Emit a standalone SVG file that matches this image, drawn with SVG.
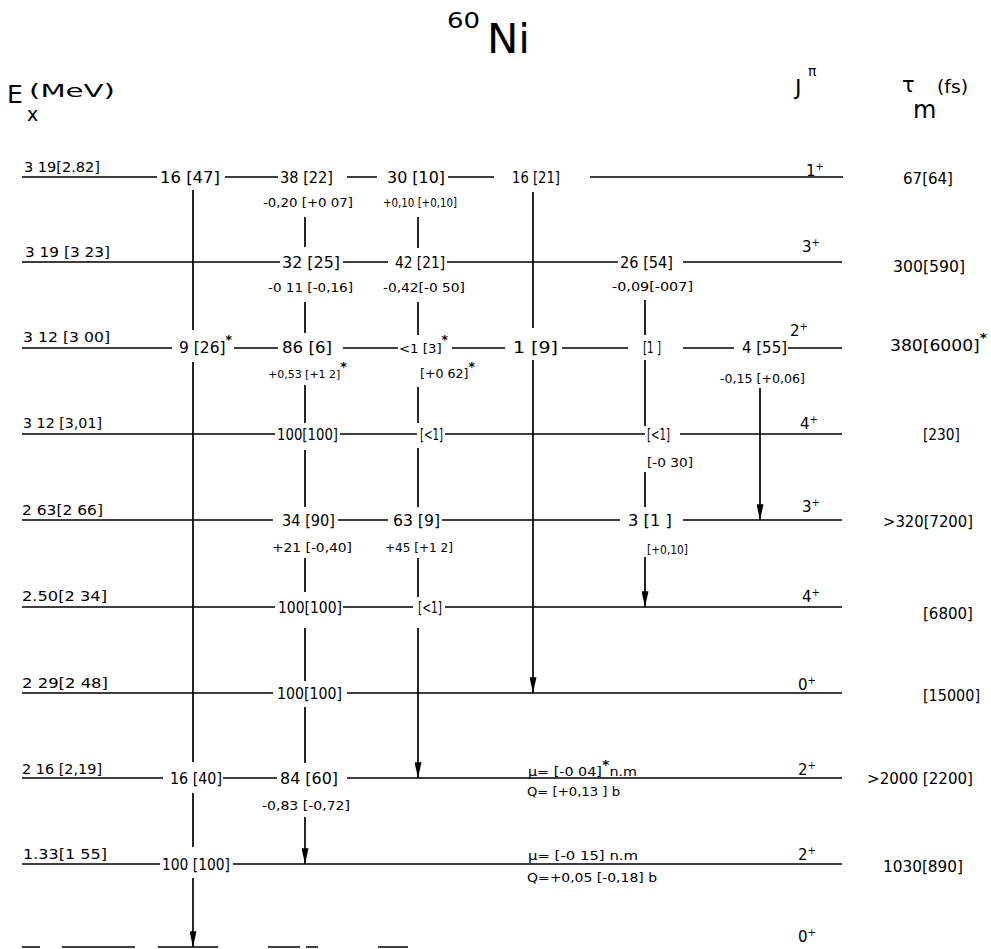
<svg xmlns="http://www.w3.org/2000/svg" width="991" height="949" viewBox="0 0 991 949">
<defs>
<style>
text{font-family:"DejaVu Sans","Liberation Sans",sans-serif;fill:#000}
.lv{stroke:#000;stroke-width:1.6;fill:none}
.tr{stroke:#000;stroke-width:1.7;fill:none}
.m{font-size:15px}
.s{font-size:12px}
.e{font-size:14px}
.j{font-size:15px}
.sup{font-size:10px}
.t{font-size:15px}
.ast{font-size:12px;font-weight:bold}
</style>
<marker id="ah" viewBox="0 0 18 8" refX="18" refY="4" markerWidth="18" markerHeight="7" markerUnits="userSpaceOnUse" orient="auto">
<path d="M0,0 L18,4 L0,8 z" fill="#000"/>
</marker>
</defs>
<rect width="991" height="949" fill="#fff"/>

<g id="title">
<text x="447" y="28" font-size="22" textLength="33" lengthAdjust="spacingAndGlyphs">60</text>
<text x="487" y="53" font-size="40" textLength="43" lengthAdjust="spacingAndGlyphs">Ni</text>
</g>
<g id="headers">
<text x="7" y="103" font-size="25">E</text>
<text x="27" y="121" font-size="19">x</text>
<text x="29" y="97" font-size="18" textLength="86" lengthAdjust="spacingAndGlyphs">(MeV)</text>
<text x="795" y="95" font-size="22">J</text>
<text x="808" y="76" font-size="14">π</text>
<text x="902" y="92" font-size="21">τ</text>
<text x="913" y="118" font-size="24">m</text>
<text x="937" y="93" font-size="17" textLength="31" lengthAdjust="spacingAndGlyphs">(fs)</text>
</g>

<g id="level-319a">
<path class="lv" d="M22 177H157M225 177H278M347 177H377M448 177H494M590 177H843"/>
<text class="e" x="24" y="172" textLength="76" lengthAdjust="spacingAndGlyphs">3 19[2.82]</text>
<text class="m" x="160" y="183" textLength="60" lengthAdjust="spacingAndGlyphs">16 [47]</text>
<text class="m" x="280" y="183" textLength="53" lengthAdjust="spacingAndGlyphs">38 [22]</text>
<text class="m" x="387" y="183" textLength="58" lengthAdjust="spacingAndGlyphs">30 [10]</text>
<text class="m" x="512" y="183" textLength="48" lengthAdjust="spacingAndGlyphs">16 [21]</text>
<text class="s" x="263" y="207" textLength="90" lengthAdjust="spacingAndGlyphs">-0,20 [+0 07]</text>
<text class="s" x="383" y="207" textLength="74" lengthAdjust="spacingAndGlyphs">+0,10 [+0,10]</text>
<text class="j" x="806" y="176" font-size="13">1<tspan class="sup" dy="-6">+</tspan></text>
<text class="t" x="903" y="184" textLength="50" lengthAdjust="spacingAndGlyphs">67[64]</text>
</g>

<g id="level-319b">
<path class="lv" d="M22 262H280M343 262H388M447 262H618M683 262H842"/>
<text class="e" x="25" y="257" textLength="85" lengthAdjust="spacingAndGlyphs">3 19 [3 23]</text>
<text class="m" x="282" y="268" textLength="58" lengthAdjust="spacingAndGlyphs">32 [25]</text>
<text class="m" x="395" y="268" textLength="50" lengthAdjust="spacingAndGlyphs">42 [21]</text>
<text class="m" x="620" y="268" textLength="53" lengthAdjust="spacingAndGlyphs">26 [54]</text>
<text class="s" x="268" y="292" textLength="85" lengthAdjust="spacingAndGlyphs">-0 11 [-0,16]</text>
<text class="s" x="383" y="292" textLength="82" lengthAdjust="spacingAndGlyphs">-0,42[-0 50]</text>
<text class="s" x="612" y="291" textLength="81" lengthAdjust="spacingAndGlyphs">-0,09[-007]</text>
<text class="j" x="802" y="252">3<tspan class="sup" dy="-6">+</tspan></text>
<text class="t" x="893" y="272" textLength="72" lengthAdjust="spacingAndGlyphs">300[590]</text>
</g>

<g id="level-312a">
<path class="lv" d="M22 348H172M234 348H278M343 348H398M452 348H505M562 348H628M683 348H734M788 348H842"/>
<text class="e" x="23" y="342" textLength="87" lengthAdjust="spacingAndGlyphs">3 12 [3 00]</text>
<text class="m" x="179" y="353" textLength="53" lengthAdjust="spacingAndGlyphs">9 [26]<tspan class="ast" dy="-9">*</tspan></text>
<text class="m" x="282" y="353" textLength="50" lengthAdjust="spacingAndGlyphs">86 [6]</text>
<text x="399" y="353" font-size="13" textLength="49" lengthAdjust="spacingAndGlyphs">&lt;1 [3]<tspan class="ast" dy="-9">*</tspan></text>
<text class="m" x="513" y="353" textLength="45" lengthAdjust="spacingAndGlyphs">1 [9]</text>
<text class="m" x="643" y="353" textLength="18" lengthAdjust="spacingAndGlyphs">[1 ]</text>
<text class="m" x="742" y="353" textLength="45" lengthAdjust="spacingAndGlyphs">4 [55]</text>
<text x="268" y="378" font-size="10.3" textLength="79" lengthAdjust="spacingAndGlyphs">+0,53 [+1 2]<tspan class="ast" dy="-7">*</tspan></text>
<text class="s" x="420" y="378" textLength="55" lengthAdjust="spacingAndGlyphs">[+0 62]<tspan class="ast" dy="-7">*</tspan></text>
<text class="s" x="720" y="383" textLength="85" lengthAdjust="spacingAndGlyphs">-0,15 [+0,06]</text>
<text class="j" x="790" y="336">2<tspan class="sup" dy="-6">+</tspan></text>
<text class="t" x="890" y="351" textLength="97" lengthAdjust="spacingAndGlyphs">380[6000]<tspan class="ast" dy="-9">*</tspan></text>
</g>

<g id="level-312b">
<path class="lv" d="M22 434H275M340 434H417M445 434H645M680 434H842"/>
<text class="e" x="23" y="428" textLength="79" lengthAdjust="spacingAndGlyphs">3 12 [3,01]</text>
<text class="m" x="277" y="440" textLength="61" lengthAdjust="spacingAndGlyphs">100[100]</text>
<text class="m" x="420" y="440" textLength="23" lengthAdjust="spacingAndGlyphs">[&lt;1]</text>
<text class="m" x="647" y="440" textLength="23" lengthAdjust="spacingAndGlyphs">[&lt;1]</text>
<text class="s" x="647" y="467" textLength="46" lengthAdjust="spacingAndGlyphs">[-0 30]</text>
<text class="j" x="800" y="429">4<tspan class="sup" dy="-6">+</tspan></text>
<text class="t" x="923" y="440" textLength="37" lengthAdjust="spacingAndGlyphs">[230]</text>
</g>

<g id="level-263">
<path class="lv" d="M22 520H273M338 520H388M442 520H620M683 520H842"/>
<text class="e" x="22" y="515" textLength="81" lengthAdjust="spacingAndGlyphs">2 63[2 66]</text>
<text class="m" x="282" y="526" textLength="53" lengthAdjust="spacingAndGlyphs">34 [90]</text>
<text class="m" x="393" y="526" textLength="47" lengthAdjust="spacingAndGlyphs">63 [9]</text>
<text class="m" x="628" y="526" textLength="44" lengthAdjust="spacingAndGlyphs">3 [1 ]</text>
<text class="s" x="272" y="552" textLength="80" lengthAdjust="spacingAndGlyphs">+21 [-0,40]</text>
<text class="s" x="385" y="552" textLength="68" lengthAdjust="spacingAndGlyphs">+45 [+1 2]</text>
<text class="s" x="647" y="554" textLength="41" lengthAdjust="spacingAndGlyphs">[+0,10]</text>
<text class="j" x="802" y="512">3<tspan class="sup" dy="-6">+</tspan></text>
<text class="t" x="883" y="527" textLength="90" lengthAdjust="spacingAndGlyphs">&gt;320[7200]</text>
</g>

<g id="level-250">
<path class="lv" d="M22 607H275M343 607H413M445 607H842"/>
<text class="e" x="22" y="601" textLength="85" lengthAdjust="spacingAndGlyphs">2.50[2 34]</text>
<text class="m" x="278" y="613" textLength="64" lengthAdjust="spacingAndGlyphs">100[100]</text>
<text class="m" x="418" y="613" textLength="24" lengthAdjust="spacingAndGlyphs">[&lt;1]</text>
<text class="j" x="802" y="602">4<tspan class="sup" dy="-6">+</tspan></text>
<text class="t" x="923" y="619" textLength="50" lengthAdjust="spacingAndGlyphs">[6800]</text>
</g>

<g id="level-229">
<path class="lv" d="M22 693H273M347 693H842"/>
<text class="e" x="22" y="688" textLength="86" lengthAdjust="spacingAndGlyphs">2 29[2 48]</text>
<text class="m" x="277" y="699" textLength="65" lengthAdjust="spacingAndGlyphs">100[100]</text>
<text class="j" x="798" y="690">0<tspan class="sup" dy="-6">+</tspan></text>
<text class="t" x="923" y="701" textLength="57" lengthAdjust="spacingAndGlyphs">[15000]</text>
</g>

<g id="level-216">
<path class="lv" d="M22 778H163M223 778H277M347 778H842"/>
<text class="e" x="22" y="774" textLength="80" lengthAdjust="spacingAndGlyphs">2 16 [2,19]</text>
<text class="m" x="170" y="784" textLength="52" lengthAdjust="spacingAndGlyphs">16 [40]</text>
<text class="m" x="280" y="784" textLength="58" lengthAdjust="spacingAndGlyphs">84 [60]</text>
<text class="s" x="262" y="810" textLength="88" lengthAdjust="spacingAndGlyphs">-0,83 [-0,72]</text>
<text class="s" x="528" y="776" textLength="109" lengthAdjust="spacingAndGlyphs">μ= [-0 04]<tspan class="ast" dy="-7">*</tspan><tspan dy="7">n.m</tspan></text>
<text class="s" x="527" y="796" textLength="93" lengthAdjust="spacingAndGlyphs">Q= [+0,13 ] b</text>
<text class="j" x="798" y="775">2<tspan class="sup" dy="-6">+</tspan></text>
<text class="t" x="867" y="784" textLength="106" lengthAdjust="spacingAndGlyphs">&gt;2000 [2200]</text>
</g>

<g id="level-133">
<path class="lv" d="M22 864H160M233 864H842"/>
<text class="e" x="23" y="859" textLength="84" lengthAdjust="spacingAndGlyphs">1.33[1 55]</text>
<text class="m" x="162" y="870" textLength="68" lengthAdjust="spacingAndGlyphs">100 [100]</text>
<text class="s" x="528" y="860" textLength="110" lengthAdjust="spacingAndGlyphs">μ= [-0 15] n.m</text>
<text class="s" x="527" y="882" textLength="130" lengthAdjust="spacingAndGlyphs">Q=+0,05 [-0,18] b</text>
<text class="j" x="798" y="860">2<tspan class="sup" dy="-6">+</tspan></text>
<text class="t" x="883" y="872" textLength="80" lengthAdjust="spacingAndGlyphs">1030[890]</text>
</g>

<g id="level-0">
<path class="lv" stroke-width="2.2" d="M22 947H40M62 947H135M158 947H218M268 947H300M306 947H318M378 947H408"/>
<text class="j" x="798" y="942">0<tspan class="sup" dy="-6">+</tspan></text>
</g>

<g id="connectors">
<path class="tr" d="M193 190V330M193 362V762M193 793V847"/>
<path class="tr" d="M193 878V947" marker-end="url(#ah)"/>
<path class="tr" d="M305 217V247M305 302V333M305 385V423M305 450V507M305 558V592M305 628V681M305 707V763"/>
<path class="tr" d="M305 817V864" marker-end="url(#ah)"/>
<path class="tr" d="M418 217V248M418 302V335M418 387V423M418 448V507M418 558V597"/>
<path class="tr" d="M418 628V778" marker-end="url(#ah)"/>
<path class="tr" d="M533 192V328"/>
<path class="tr" d="M533 360V693" marker-end="url(#ah)"/>
<path class="tr" d="M645 300V335M645 360V426M645 472V507"/>
<path class="tr" d="M645 557V607" marker-end="url(#ah)"/>
<path class="tr" d="M760 388V520" marker-end="url(#ah)"/>
</g>
</svg>
